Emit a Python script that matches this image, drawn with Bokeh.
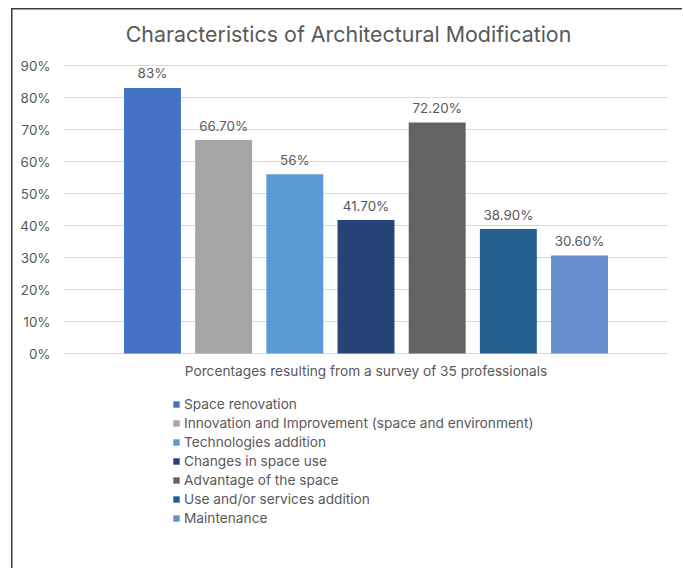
from bokeh.plotting import figure
from bokeh.models import (ColumnDataSource, LabelSet, Label, Legend, LegendItem,
                          Range1d, FixedTicker, PrintfTickFormatter)
from bokeh.core.properties import value
from bokeh.embed import file_html
from bokeh.resources import INLINE

categories = [
    "Space renovation",
    "Innovation and Improvement (space and environment)",
    "Technologies addition",
    "Changes in space use",
    "Advantage of the space",
    "Use and/or services addition",
    "Maintenance",
]
values = [83, 66.7, 56, 41.7, 72.2, 38.9, 30.6]
value_labels = ["83%", "66.70%", "56%", "41.70%", "72.20%", "38.90%", "30.60%"]
colors = ["#4472C4", "#A5A5A5", "#5B9BD5", "#264478", "#636363", "#255E91", "#698ED0"]
y_ticks = [0, 10, 20, 30, 40, 50, 60, 70, 80, 90]
title_text = "Characteristics of Architectural Modification"
x_label = "Porcentages resulting from a survey of 35 professionals"

FONT = "Inter"
TXT = "#595959"
GRID = "#D9D9D9"

src = ColumnDataSource(dict(
    x=list(range(len(values))),
    top=values,
    label=value_labels,
    color=colors,
    name=categories,
))

# the frame spans the whole height: 90 units of data = 288 px, with room above
# for the title and below for the axis title and the legend
p = figure(
    output_backend="svg", toolbar_location=None, title=None,
    frame_width=605, frame_height=568,
    min_border_left=63, min_border_right=14, min_border_top=0, min_border_bottom=0,
    x_range=Range1d(-1.25, 7.25), y_range=Range1d(-67.1875, 110.3125),
    border_fill_color=None, background_fill_color=None, outline_line_color=None,
)
p.styles = {"box-shadow": "inset 11px 8px 0 0 white, inset 12.5px 9.5px 0 0 #3a3a3a"}

r = p.vbar(x="x", top="top", width=0.8, color="color", source=src, line_color=None)

p.add_layout(LabelSet(x="x", y="top", text="label", source=src,
                      text_align="center", text_baseline="middle", y_offset=14.5,
                      text_font=value(FONT), text_font_size="13.4px", text_color=TXT))

# chart title, centred on the whole chart box
p.add_layout(Label(x=3, y=max(y_ticks), x_offset=-17.5, y_offset=32, text=title_text,
                   text_align="center", text_baseline="middle",
                   text_font=FONT, text_font_size="21.4px", text_color=TXT))

# axis title under the category axis
p.add_layout(Label(x=3, y=0, y_offset=-17, text=x_label,
                   text_align="center", text_baseline="middle",
                   text_font=FONT, text_font_size="13.7px", text_color=TXT))

p.xgrid.visible = False
p.ygrid.grid_line_color = GRID
p.ygrid.ticker = FixedTicker(ticks=y_ticks)

p.xaxis.visible = False

p.yaxis.ticker = FixedTicker(ticks=y_ticks)
p.yaxis.formatter = PrintfTickFormatter(format="%d%%")
p.yaxis.axis_line_color = None
p.yaxis.major_tick_line_color = None
p.yaxis.minor_tick_line_color = None
p.yaxis.major_tick_out = 0
p.yaxis.major_label_standoff = 13
p.yaxis.major_label_text_font = FONT
p.yaxis.major_label_text_font_size = "13.4px"
p.yaxis.major_label_text_color = TXT

legend = Legend(
    items=[LegendItem(label=categories[i], renderers=[r], index=i) for i in range(len(categories))],
    location=(109, 42.5), orientation="vertical",
    glyph_width=8, glyph_height=8, label_height=15, spacing=3, label_standoff=4,
    padding=0, margin=0, border_line_color=None, background_fill_color=None,
    label_text_font=FONT, label_text_font_size="13.7px", label_text_color=TXT,
)
p.add_layout(legend, "center")

open("out.html", "w").write(file_html(p, INLINE))
